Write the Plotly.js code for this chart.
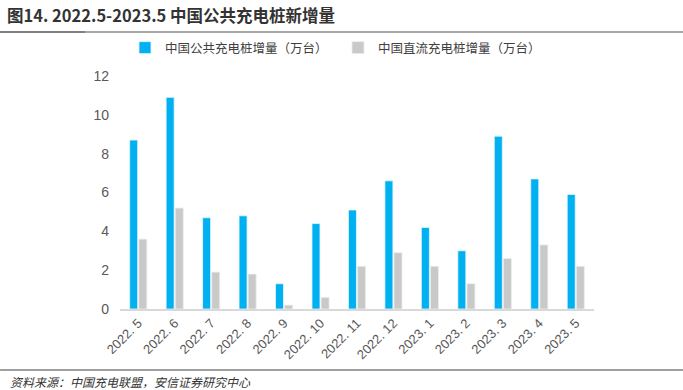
<!DOCTYPE html>
<html>
<head>
<meta charset="utf-8">
<script src="https://cdn.plot.ly/plotly-3.0.1.min.js"></script>
<style>html,body{margin:0;padding:0;background:#fff;}#chart{width:683px;height:390px;}</style>
</head>
<body>
<div id="chart"></div>
<script>
const categories = ["2022. 5","2022. 6","2022. 7","2022. 8","2022. 9","2022. 10","2022. 11","2022. 12","2023. 1","2023. 2","2023. 3","2023. 4","2023. 5"];
const publicPiles = [8.7,10.9,4.7,4.8,1.3,4.4,5.1,6.6,4.2,3.0,8.9,6.7,5.9];
const dcPiles = [3.6,5.2,1.9,1.8,0.2,0.6,2.2,2.9,2.2,1.3,2.6,3.3,2.2];
const seriesNames = ["中国公共充电桩增量（万台）","中国直流充电桩增量（万台）"];
const yTicks = [0,2,4,6,8,10,12];

const cjk = '"Noto Sans CJK SC", "Liberation Sans", Arial, sans-serif';
const legFont = {family:cjk, size:12.5, color:'#404040'};
const traces = [
  {type:'bar', name:seriesNames[0], x:categories, y:publicPiles, legend:'legend',
   marker:{color:'#00B0F0', line:{color:'#E6F7FD', width:0.8}}},
  {type:'bar', name:seriesNames[1], x:categories, y:dcPiles, legend:'legend2',
   marker:{color:'#C9C9C9', line:{color:'#EEEEEE', width:0.8}}}
];
const legY = (309-48)/233;
const layout = {
  width:683, height:390,
  margin:{l:120, r:89, t:76, b:81},
  paper_bgcolor:'#fff', plot_bgcolor:'#fff',
  barmode:'group', bargap:0.5, bargroupgap:0.12,
  showlegend:true,
  legend:{orientation:'h', x:(125-120)/474, y:legY, xanchor:'left', yanchor:'middle',
    font:legFont, itemwidth:30, bgcolor:'rgba(0,0,0,0)'},
  legend2:{orientation:'h', x:(338-120)/474, y:legY, xanchor:'left', yanchor:'middle',
    font:legFont, itemwidth:30, bgcolor:'rgba(0,0,0,0)'},
  xaxis:{type:'category', tickangle:-45, showgrid:false, zeroline:false,
    showline:true, linecolor:'#D9D9D9', linewidth:1.5, ticks:'',
    tickfont:{family:'"Liberation Sans", Arial, sans-serif', size:13, color:'#595959'}},
  yaxis:{range:[0,12], tickvals:yTicks, showgrid:false, zeroline:false, showline:false,
    ticks:'', ticklabelstandoff:10,
    tickfont:{family:'"Liberation Sans", Arial, sans-serif', size:14, color:'#595959'}},
  shapes:[
    {type:'line', xref:'paper', yref:'paper', x0:-0.253, x1:1.188, y0:(309-32)/233, y1:(309-32)/233,
     line:{color:'#A6A6A6', width:2}},
    {type:'line', xref:'paper', yref:'paper', x0:-0.253, x1:(85-120)/474, y0:(309-32)/233, y1:(309-32)/233,
     line:{color:'#808080', width:2}},
    {type:'line', xref:'paper', yref:'paper', x0:-0.253, x1:1.188, y0:(309-370)/233, y1:(309-370)/233,
     line:{color:'#7F7F7F', width:1.5}}
  ],
  annotations:[
    {xref:'paper', yref:'paper', x:(5-120)/474, y:(309-15)/233, xanchor:'left', yanchor:'middle',
     showarrow:false, text:'<b>图14. 2022.5-2023.5 中国公共充电桩新增量</b>',
     font:{family:cjk, size:16.5, color:'#333333'}},
    {xref:'paper', yref:'paper', x:(8-120)/474, y:(309-381)/233, xanchor:'left', yanchor:'middle',
     showarrow:false, text:'<i>资料来源：中国充电联盟，安信证券研究中心</i>',
     font:{family:cjk, size:12, color:'#333333'}}
  ]
};
Plotly.newPlot('chart', traces, layout, {displayModeBar:false, staticPlot:true});
</script>
</body>
</html>
